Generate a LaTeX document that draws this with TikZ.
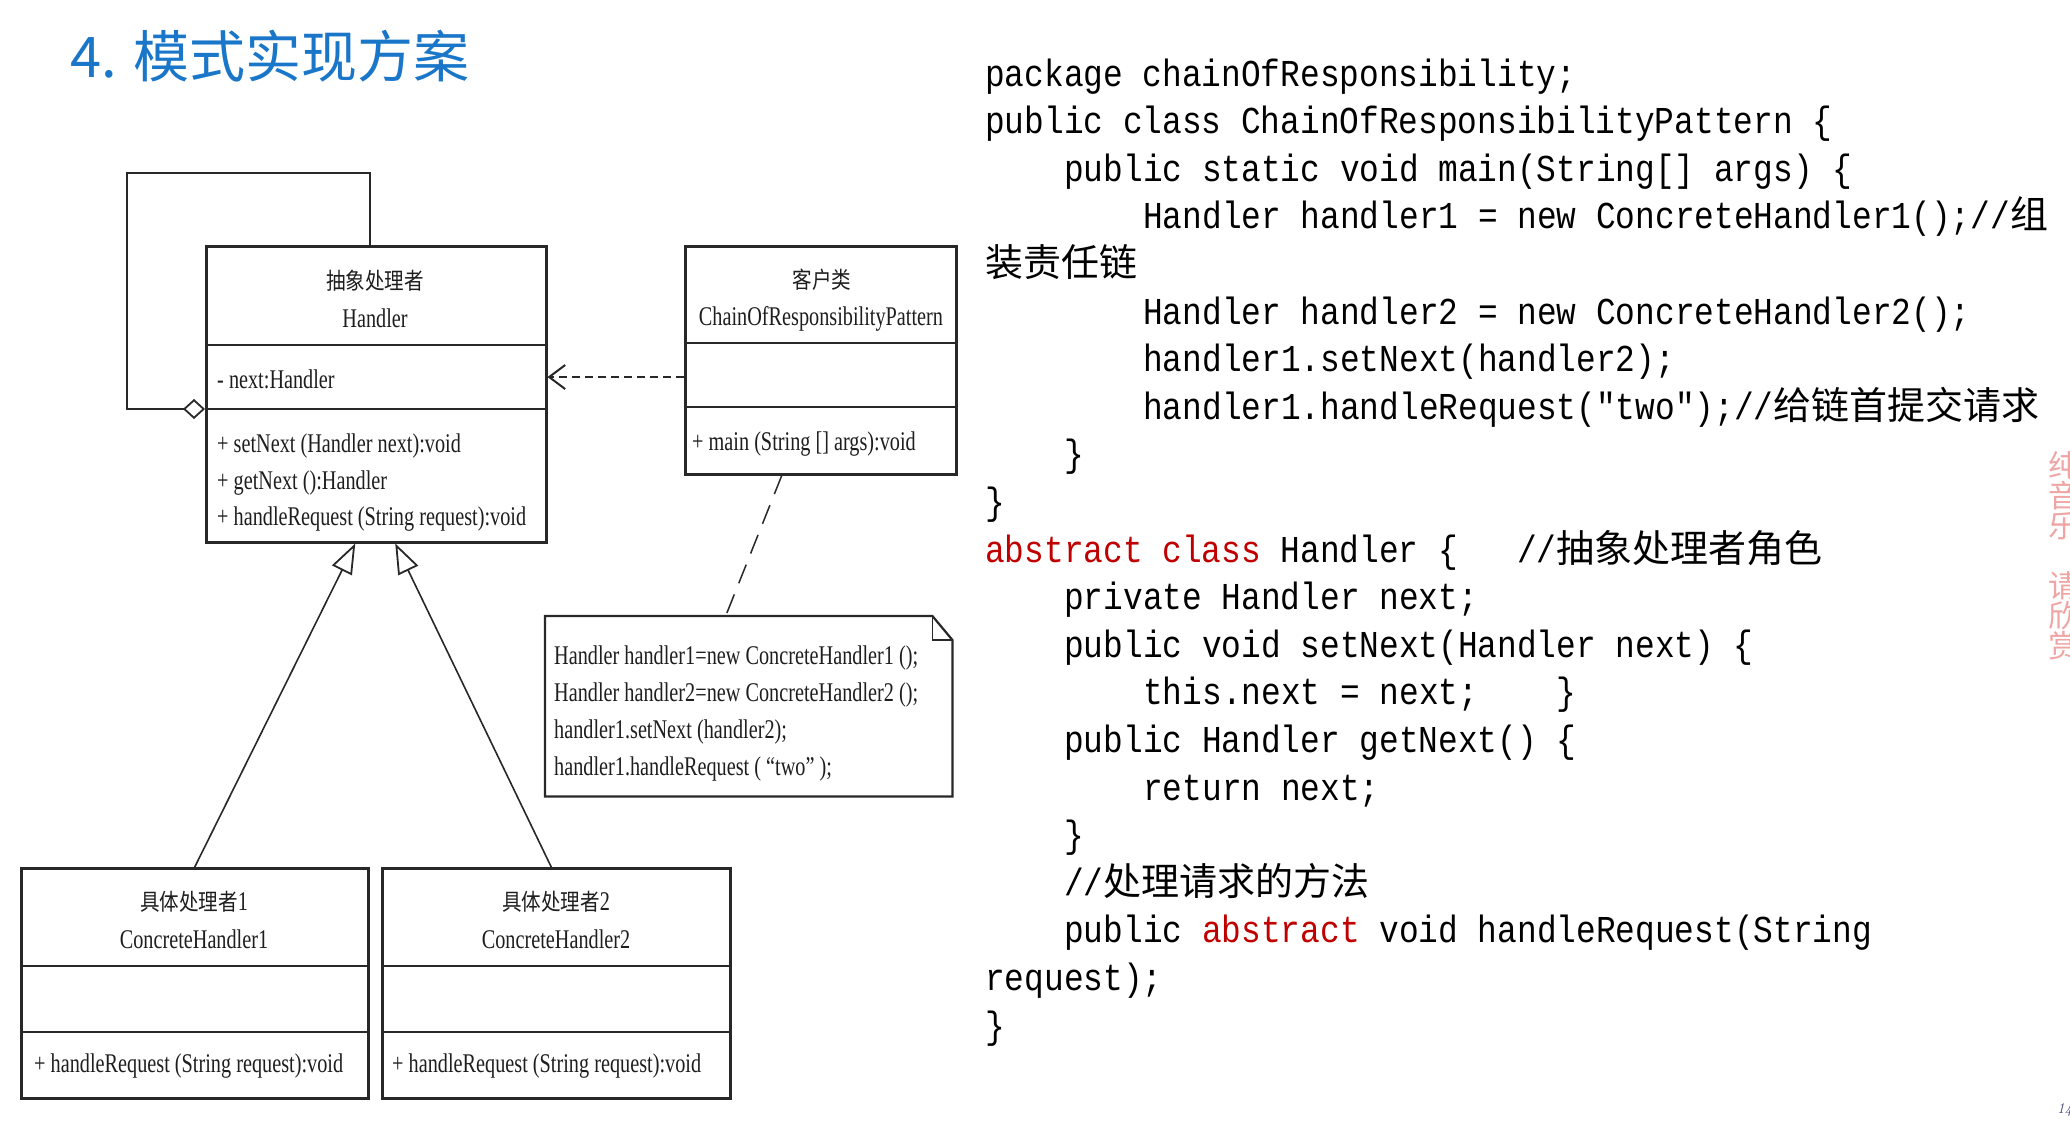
\documentclass[tikz,border=0pt]{standalone}
\usepackage{fontspec}
\usetikzlibrary{arrows.meta}
\newfontfamily\umlfont[FakeStretch=0.75]{Liberation Serif}
\newfontfamily\umlcjk[FakeStretch=0.85]{Noto Sans CJK SC}
\newfontfamily\codefont[FakeStretch=0.864]{Liberation Mono}
\newfontfamily\cjkfont{Noto Sans CJK SC}
\definecolor{titleblue}{RGB}{25,118,200}
\definecolor{codered}{RGB}{192,0,0}
\definecolor{umlgray}{RGB}{40,40,40}
\definecolor{umltext}{RGB}{30,30,30}
\definecolor{wmpink}{RGB}{240,165,165}
\definecolor{pagenum}{RGB}{70,70,120}
\newlength\codecw \setlength\codecw{19.7pt}
\newcommand\codegap[1]{\hspace*{#1\codecw}}
\newcommand\cjkc[1]{{\cjkfont #1}}
\newcommand\zhuml[1]{{\umlcjk\fontsize{23}{27}\selectfont #1}}
\begin{document}
\begin{tikzpicture}[x=1pt,y=-1pt,line join=miter,
  umlbox/.style={draw=umlgray, line width=2.5pt, inner sep=0pt, anchor=north west},
  divider/.style={draw=umlgray, line width=2.5pt},
  umltxt/.style={font=\umlfont\fontsize{27}{32}\selectfont, text=umltext, inner sep=0pt},
  umlzh/.style={font=\umlcjk\fontsize{23}{27}\selectfont, text=umltext, inner sep=0pt, anchor=base},
  code/.style={font=\codefont\fontsize{38}{47.6}\selectfont, text=black, inner sep=0pt, anchor=base west},
  genline/.style={draw=umlgray, line width=1.6pt, -{Triangle[open, length=30pt, width=22pt, line width=1.8pt]}},
  depline/.style={draw=umlgray, line width=2pt, dash pattern=on 8pt off 5pt, -{Straight Barb[length=16pt, width=24pt, line width=2pt]}},
  notelink/.style={draw=umlgray, line width=1.5pt, dash pattern=on 20pt off 12pt},
  loopline/.style={draw=umlgray, line width=1.8pt}
]
\fill[white] (0,0) rectangle (2070,1122);
\useasboundingbox (0,0) rectangle (2070,1122);

% title
\node[font=\cjkfont\fontsize{56}{60}\selectfont, text=titleblue, anchor=base west, inner sep=0pt] (title) at (70,77) {4. 模式实现方案};

% Handler box
\node[umlbox, minimum width=340pt, minimum height=296pt] (handler) at (205,245) {};
\draw[divider] (205,345) -- (545,345);
\draw[divider] (205,409) -- (545,409);
\node[umlzh] (hzh) at (375,289) {抽象处理者};
\node[umltxt, anchor=base] (hname) at (375,327) {Handler};
\node[umltxt, anchor=base west] (hattr) at (217,388) {- next:Handler};
\node[umltxt, anchor=base west] (hm1) at (217,452) {+ setNext (Handler next):void};
\node[umltxt, anchor=base west] (hm2) at (217,489) {+ getNext ():Handler};
\node[umltxt, anchor=base west] (hm3) at (217,525) {+ handleRequest (String request):void};

% Client box
\node[umlbox, minimum width=271pt, minimum height=228pt] (client) at (684,245) {};
\draw[divider] (684,343) -- (955,343);
\draw[divider] (684,407) -- (955,407);
\node[umlzh] (czh) at (822,288) {客户类};
\node[umltxt, anchor=base] (cname) at (821,325) {ChainOfResponsibilityPattern};
\node[umltxt, anchor=base west] (cm1) at (692,450) {+ main (String [] args):void};

% Note
\node[minimum width=407pt, minimum height=180pt, inner sep=0pt, anchor=north west] (note) at (545,616) {};
\draw[draw=umlgray, line width=2.2pt] (note.north west) -- ([xshift=-20pt]note.north east) -- ([yshift=-24pt]note.north east) -- (note.south east) -- (note.south west) -- cycle;
\draw[draw=umlgray, line width=1.6pt] ([xshift=-20pt]note.north east) -- ([xshift=-20pt,yshift=-24pt]note.north east) -- ([yshift=-24pt]note.north east);
\node[umltxt, anchor=base west] (n1) at (554,664) {Handler handler1=new ConcreteHandler1 ();};
\node[umltxt, anchor=base west] (n2) at (554,701) {Handler handler2=new ConcreteHandler2 ();};
\node[umltxt, anchor=base west] (n3) at (554,738) {handler1.setNext (handler2);};
\node[umltxt, anchor=base west] (n4) at (554,775) {handler1.handleRequest ( “two” );};

% Concrete handlers
\node[umlbox, minimum width=347pt, minimum height=230pt] (ch1) at (20,867) {};
\draw[divider] (20,966) -- (367,966);
\draw[divider] (20,1032) -- (367,1032);
\node[umltxt, anchor=base] (ch1zh) at (194,910) {\zhuml{具体处理者}1};
\node[umltxt, anchor=base] (ch1name) at (194,948) {ConcreteHandler1};
\node[umltxt, anchor=base west] (ch1m) at (34,1072) {+ handleRequest (String request):void};

\node[umlbox, minimum width=348pt, minimum height=230pt] (ch2) at (381,867) {};
\draw[divider] (381,966) -- (729,966);
\draw[divider] (381,1032) -- (729,1032);
\node[umltxt, anchor=base] (ch2zh) at (556,910) {\zhuml{具体处理者}2};
\node[umltxt, anchor=base] (ch2name) at (556,948) {ConcreteHandler2};
\node[umltxt, anchor=base west] (ch2m) at (392,1072) {+ handleRequest (String request):void};

% connectors
\coordinate (lpa) at (370,173);
\coordinate (lpb) at (127,173);
\coordinate (lpc) at (127,409);
\draw[loopline, -{Diamond[open, length=22pt, width=20pt, line width=1.8pt]}] (handler.north -| lpa) -- (lpa) -- (lpb) -- (lpc) -- (handler.west |- lpc);
\coordinate (depy) at (600,377);
\draw[depline] (client.west |- depy) -- (handler.east |- depy);
\draw[genline] (ch1.north) -- ([xshift=-21pt]handler.south);
\draw[genline] ([xshift=-5pt]ch2.north) -- ([xshift=19pt]handler.south);
\draw[notelink] ([xshift=-39pt]client.south) -- ([xshift=-23pt]note.north);

% code
\node[code] (c1) at (985,86) {package chainOfResponsibility;};
\node[code] (c2) at (985,133.6) {public class ChainOfResponsibilityPattern \{};
\node[code] (c3) at (1064,181.2) {public static void main(String[] args) \{};
\node[code] (c4) at (1143,228.8) {Handler handler1 = new ConcreteHandler1();//\cjkc{组}};
\node[code] (c5) at (985,276.4) {\cjkc{装责任链}};
\node[code] (c6) at (1143,324) {Handler handler2 = new ConcreteHandler2();};
\node[code] (c7) at (1143,371.6) {handler1.setNext(handler2);};
\node[code] (c8) at (1143,419.2) {handler1.handleRequest("two");//\cjkc{给链首提交请求}};
\node[code] (c9) at (1064,466.8) {\}};
\node[code] (c10) at (985,514.4) {\}};
\node[code] (c11) at (985,562) {\textcolor{codered}{abstract class} Handler \{\codegap{3}//\cjkc{抽象处理者角色}};
\node[code] (c12) at (1064,609.6) {private Handler next;};
\node[code] (c13) at (1064,657.2) {public void setNext(Handler next) \{};
\node[code] (c14) at (1143,704.8) {this.next = next;\codegap{4}\}};
\node[code] (c15) at (1064,752.4) {public Handler getNext() \{};
\node[code] (c16) at (1143,800) {return next;};
\node[code] (c17) at (1064,847.6) {\}};
\node[code] (c18) at (1064,895.2) {//\cjkc{处理请求的方法}};
\node[code] (c19) at (1064,942.8) {public \textcolor{codered}{abstract} void handleRequest(String};
\node[code] (c20) at (985,990.4) {request);};
\node[code] (c21) at (985,1038) {\}};

% watermark and page number
\node[font=\cjkfont\fontsize{31}{30}\selectfont, text=wmpink, anchor=north west, inner sep=0pt, align=center] (wm1) at (2048,451) {纯\\音\\乐};
\node[font=\cjkfont\fontsize{31}{30}\selectfont, text=wmpink, anchor=north west, inner sep=0pt, align=center] (wm2) at (2048,571) {请\\欣\\赏};
\node[font=\itshape\fontsize{15}{18}\selectfont, text=pagenum, anchor=base west, inner sep=0pt] (pg) at (2057,1113) {14};
\end{tikzpicture}
\end{document}
